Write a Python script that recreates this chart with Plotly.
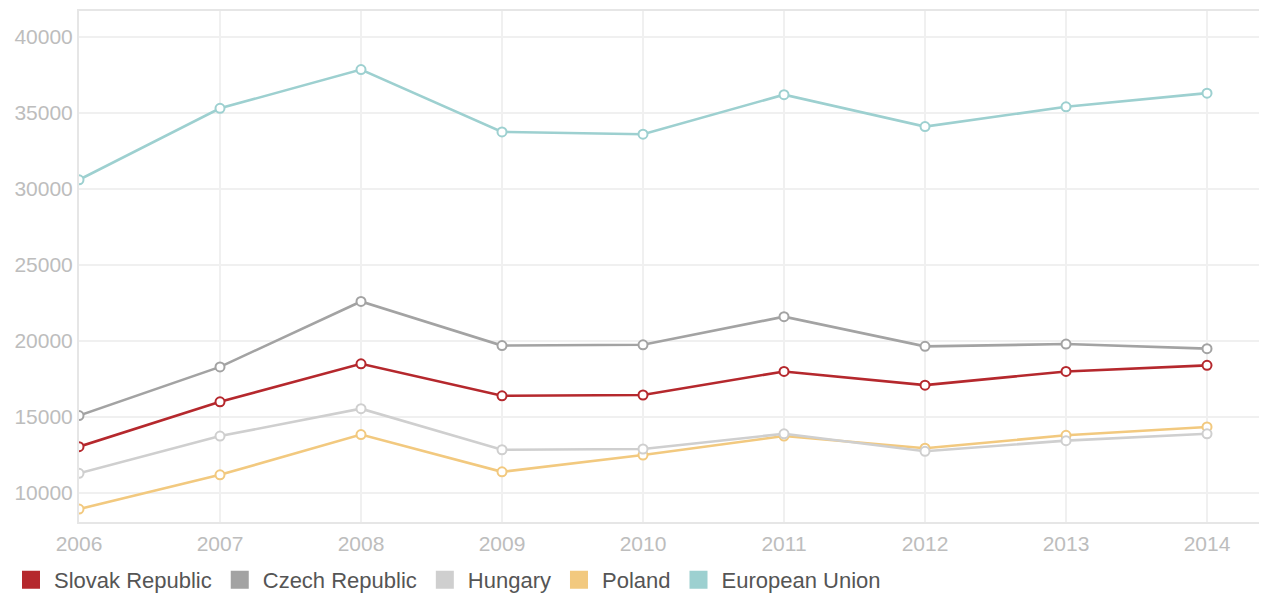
import plotly.graph_objects as go

years = [2006, 2007, 2008, 2009, 2010, 2011, 2012, 2013, 2014]
slovak = [13050, 16000, 18500, 16400, 16450, 18000, 17100, 18000, 18400]
czech = [15100, 18300, 22600, 19700, 19750, 21600, 19650, 19800, 19500]
hungary = [11300, 13750, 15550, 12850, 12900, 13900, 12750, 13450, 13900]
poland = [8950, 11200, 13850, 11400, 12500, 13750, 12950, 13800, 14350]
eu = [30600, 35300, 37850, 33750, 33600, 36200, 34100, 35400, 36300]
y_ticks = [10000, 15000, 20000, 25000, 30000, 35000, 40000]

series = [
    ("Slovak Republic", slovak, "#b5282d"),
    ("Czech Republic", czech, "#a3a3a3"),
    ("Hungary", hungary, "#cfcfcf"),
    ("Poland", poland, "#f2c97f"),
    ("European Union", eu, "#9dd0d0"),
]

fig = go.Figure()
for name, vals, col in reversed(series):
    fig.add_trace(go.Scatter(
        x=years, y=vals, mode="lines+markers", name=name, showlegend=False,
        line=dict(color=col, width=2.6),
        marker=dict(symbol="circle", size=9, color="white", line=dict(color=col, width=2)),
    ))
for name, vals, col in series:
    fig.add_trace(go.Scatter(
        x=[None], y=[None], mode="markers", name=name, showlegend=True,
        marker=dict(symbol="square", size=16, color=col, line=dict(color=col, width=2)),
    ))

# page has an 8px body margin, so the figure is sized/offset to compensate
fig.update_layout(
    width=1259, height=585,
    margin=dict(l=71, r=5, t=3, b=71, autoexpand=False),
    paper_bgcolor="white", plot_bgcolor="white",
    font=dict(family="Liberation Sans, Arial, sans-serif"),
    legend=dict(orientation="h", xref="container", yref="paper",
                x=-0.003, y=-0.1135, xanchor="left", yanchor="middle",
                font=dict(size=22, color="#555555"), itemsizing="trace",
                traceorder="normal", itemwidth=36),
    xaxis=dict(range=[2006, 2014.39], tickvals=years, ticktext=[str(y) for y in years],
               showgrid=True, gridcolor="#f0f0f0", gridwidth=1.5,
               showline=True, linecolor="#e6e6e6", linewidth=2, mirror=True,
               zeroline=False, ticks="", automargin=False, ticklabelstandoff=2,
               tickfont=dict(size=21, color="#bdbdbd")),
    yaxis=dict(range=[8100, 41700], tickvals=y_ticks, ticktext=[str(v) for v in y_ticks],
               showgrid=True, gridcolor="#f0f0f0", gridwidth=1.5,
               showline=True, linecolor="#e6e6e6", linewidth=2, mirror=True,
               zeroline=False, ticks="", ticklabelstandoff=0, automargin=False,
               tickfont=dict(size=21, color="#bdbdbd")),
)

fig.write_html("out.html")
